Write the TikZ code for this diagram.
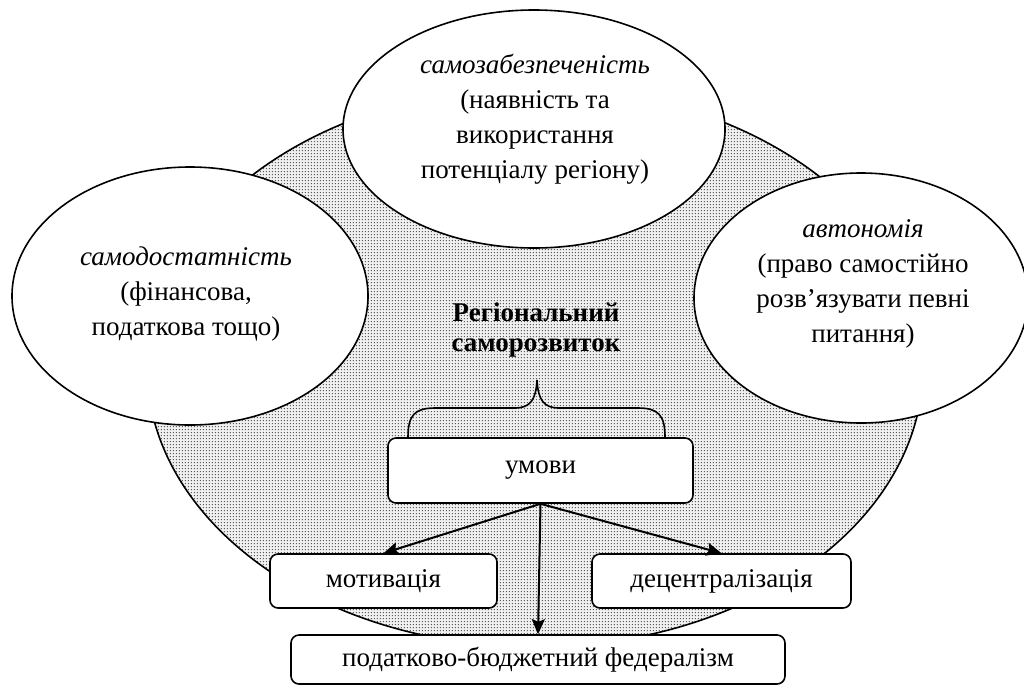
\documentclass[tikz,border=0pt]{standalone}
\usepackage{fontspec}
\setmainfont{Liberation Serif}
\usetikzlibrary{shapes.geometric,arrows.meta,patterns,patterns.meta}
\tikzdeclarepattern{
  name=mydots,
  type=uncolored,
  bottom left={(0pt,0pt)},
  top right={(3.3pt,3.3pt)},
  tile size={(3.3pt,3.3pt)},
  code={\pgfpathcircle{\pgfpoint{1.65pt}{1.65pt}}{0.75pt}\pgfusepath{fill}}
}
\begin{document}
\begin{tikzpicture}[x=1pt,y=-1pt,
  wellipse/.style={ellipse, draw, line width=1.6pt, fill=white, inner sep=0pt},
  txt/.style={align=center, inner sep=0pt, font=\fontsize{27}{35}\selectfont},
  boldtxt/.style={align=center, inner sep=0pt, font=\fontsize{27}{30}\selectfont\bfseries},
  box/.style={draw, line width=1.6pt, fill=white, rounded corners=8pt, inner sep=0pt, font=\fontsize{27}{33}\selectfont},
  arr/.style={line width=2pt, -{Stealth[length=15pt,width=13pt,inset=2.5pt]}},
  outline/.style={line width=1.6pt}]
\useasboundingbox (0,0) rectangle (1024,686);
\fill[white] (0,0) rectangle (1024,686);
% big shaded ellipse
\coordinate (bigc) at (535,367);
\fill[gray!12] (bigc) ellipse [x radius=388, y radius=280];
\fill[pattern=mydots, pattern color=black!70] (bigc) ellipse [x radius=388, y radius=280];
\draw[outline] (bigc) ellipse [x radius=388, y radius=280];
% three white ellipses
\node[wellipse, minimum width=356pt, minimum height=258pt] (left) at (190,296) {};
\node[wellipse, minimum width=382pt, minimum height=238pt] (top) at (534,129) {};
\node[wellipse, minimum width=334pt, minimum height=250pt] (right) at (861,298) {};
\node[txt] (lefttxt) at (186,294) {\textit{самодостатність}\\(фінансова,\\податкова тощо)};
\node[txt] (toptxt) at (535,119) {\textit{самозабезпеченість}\\(наявність та\\використання\\потенціалу регіону)};
\node[txt] (righttxt) at (863,284) {\textit{автономія}\\(право самостійно\\розв’язувати певні\\питання)};
% central title
\node[boldtxt] (title) at (536,330) {Регіональний\\саморозвиток};
% brace
\draw[outline] (408,437) .. controls (408,415) and (415,408) .. (435,408) -- (515,408)
  .. controls (530,408) and (536,400) .. (537,380)
  .. controls (538,400) and (544,408) .. (559,408) -- (638,408)
  .. controls (658,408) and (665,415) .. (665,437);
% boxes
\node[box, minimum width=305pt, minimum height=65pt] (umovy) at (540.5,470.5) {умови};
\node[box, minimum width=227pt, minimum height=54pt] (motiv) at (383.5,581) {мотивація};
\node[box, minimum width=259pt, minimum height=54pt] (decent) at (721.5,581) {децентралізація};
\node[box, minimum width=494pt, minimum height=49pt] (fed) at (538,659.5) {податково-бюджетний федералізм};
% arrows
\draw[arr] (umovy.south) -- (motiv.north);
\draw[arr] (umovy.south) -- (decent.north);
\draw[arr] (umovy.south) -- (fed.north);
\end{tikzpicture}
\end{document}
